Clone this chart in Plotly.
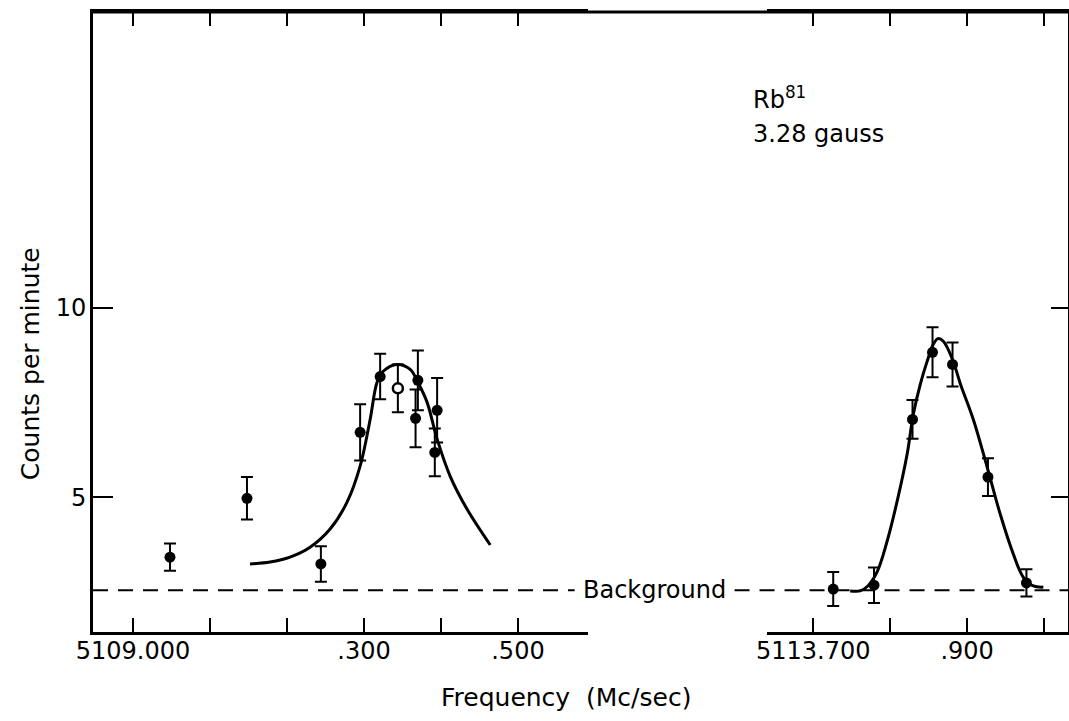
import plotly.graph_objects as go

# ---------------- data ----------------
BACKGROUND = 2.55

# left resonance (5109 Mc/sec region)
left_x = [5109.048, 5109.148, 5109.244, 5109.295, 5109.321, 5109.370, 5109.367, 5109.395, 5109.392]
left_y = [3.42, 4.97, 3.24, 6.71, 8.18, 8.08, 7.08, 7.29, 6.18]
left_err = [0.36, 0.56, 0.47, 0.74, 0.60, 0.79, 0.76, 0.85, 0.63]

# open-circle point
open_x = [5109.344]
open_y = [7.87]
open_err = [0.63]

left_curve_x = [5109.152, 5109.178, 5109.204, 5109.230, 5109.256, 5109.278, 5109.295,
                5109.308, 5109.317, 5109.325, 5109.343, 5109.360, 5109.370, 5109.382,
                5109.395, 5109.412, 5109.434, 5109.464]
left_curve_y = [3.24, 3.29, 3.42, 3.68, 4.16, 4.87, 5.82, 7.05, 8.03, 8.32, 8.50, 8.37,
                8.03, 7.50, 6.53, 5.55, 4.68, 3.74]

# right resonance (5113 Mc/sec region)
right_x = [5113.726, 5113.779, 5113.829, 5113.855, 5113.881, 5113.927, 5113.977]
right_y = [2.58, 2.68, 7.05, 8.82, 8.50, 5.53, 2.74]
right_err = [0.45, 0.47, 0.51, 0.66, 0.58, 0.50, 0.36]

right_curve_x = [5113.748, 5113.761, 5113.771, 5113.783, 5113.796, 5113.809, 5113.822,
                 5113.830, 5113.839, 5113.848, 5113.856, 5113.862, 5113.869, 5113.881,
                 5113.891, 5113.908, 5113.926, 5113.943, 5113.960, 5113.973, 5113.986,
                 5113.999]
right_curve_y = [2.53, 2.53, 2.66, 3.03, 3.84, 4.89, 6.13, 7.18, 7.97, 8.58, 9.03, 9.18,
                 9.11, 8.63, 8.00, 7.05, 5.79, 4.55, 3.50, 2.89, 2.66, 2.63]

left_tickvals = [5109.0, 5109.3, 5109.5]
left_ticktext = ["5109.000", ".300", ".500"]
left_minor_vals = [5109.1, 5109.2, 5109.4]
right_tickvals = [5113.7, 5113.9]
right_ticktext = ["5113.700", ".900"]
right_minor_vals = [5113.8, 5114.0]
y_tickvals = [5, 10]
y_ticktext = ["5", "10"]

# ---------------- figure ----------------
FONT = "DejaVu Sans"
BLACK = "black"

fig = go.Figure()

err_style = dict(type="data", visible=True, thickness=2, width=6, color=BLACK)

fig.add_trace(go.Scatter(x=left_curve_x, y=left_curve_y, mode="lines",
                         line=dict(color=BLACK, width=3, shape="spline"),
                         xaxis="x", yaxis="y", hoverinfo="skip"))
fig.add_trace(go.Scatter(x=left_x, y=left_y, mode="markers",
                         marker=dict(color=BLACK, size=11, symbol="circle"),
                         error_y=dict(array=left_err, **err_style),
                         xaxis="x", yaxis="y"))
fig.add_trace(go.Scatter(x=open_x, y=open_y, mode="markers",
                         marker=dict(color="white", size=10, symbol="circle",
                                     line=dict(color=BLACK, width=2.5)),
                         error_y=dict(array=open_err, **err_style),
                         xaxis="x", yaxis="y"))

fig.add_trace(go.Scatter(x=right_curve_x, y=right_curve_y, mode="lines",
                         line=dict(color=BLACK, width=3, shape="spline", smoothing=1.0),
                         xaxis="x2", yaxis="y2", hoverinfo="skip"))
fig.add_trace(go.Scatter(x=right_x, y=right_y, mode="markers",
                         marker=dict(color=BLACK, size=11, symbol="circle"),
                         error_y=dict(array=right_err, **err_style),
                         xaxis="x2", yaxis="y2"))

axis_font = dict(family=FONT, size=24, color=BLACK)

xcommon = dict(showgrid=False, zeroline=False, showline=True, linecolor=BLACK, linewidth=3,
               ticks="inside", ticklen=14, tickwidth=2, tickcolor=BLACK, mirror="ticks",
               tickfont=axis_font, ticklabelstandoff=-5, fixedrange=True)

fig.update_layout(
    width=1069, height=721,
    margin=dict(l=93, r=1, t=12, b=89),
    paper_bgcolor="white", plot_bgcolor="white",
    showlegend=False,
    xaxis=dict(domain=[0, 0.5077], range=[5108.948, 5109.591], anchor="y",
               tickmode="array", tickvals=left_tickvals, ticktext=left_ticktext,
               minor=dict(tickmode="array", tickvals=left_minor_vals, ticks="inside",
                          ticklen=14, tickwidth=2, tickcolor=BLACK, showgrid=False),
               **xcommon),
    xaxis2=dict(domain=[0.6913, 1], range=[5113.640, 5114.031], anchor="y2",
                tickmode="array", tickvals=right_tickvals, ticktext=right_ticktext,
                minor=dict(tickmode="array", tickvals=right_minor_vals, ticks="inside",
                           ticklen=14, tickwidth=2, tickcolor=BLACK, showgrid=False),
                **xcommon),
    yaxis=dict(range=[1.447, 17.79], anchor="x", showgrid=False, zeroline=False,
               showline=True, linecolor=BLACK, linewidth=3, ticks="inside", ticklen=20,
               tickwidth=2, tickcolor=BLACK, tickmode="array", tickvals=y_tickvals,
               ticktext=y_ticktext, tickfont=axis_font, ticklabelstandoff=-1, fixedrange=True),
    yaxis2=dict(range=[1.447, 17.79], anchor="x2", side="right", matches="y",
                showgrid=False, zeroline=False, showline=True, linecolor=BLACK, linewidth=3,
                ticks="inside", ticklen=17, tickwidth=2, tickcolor=BLACK, tickmode="array",
                tickvals=y_tickvals, showticklabels=False, fixedrange=True),
)

# continuous top frame line across the axis break
fig.add_shape(type="line", xref="paper", yref="paper", x0=0, x1=1, y0=1, y1=1,
              line=dict(color=BLACK, width=3))

# background level (dashed), interrupted by its label
dash_style = dict(color=BLACK, width=2, dash="15px,10px")
fig.add_shape(type="line", xref="paper", yref="y", x0=0, x1=0.494,
              y0=BACKGROUND, y1=BACKGROUND, line=dash_style)
fig.add_shape(type="line", xref="paper", yref="y", x0=0.658, x1=1,
              y0=BACKGROUND, y1=BACKGROUND, line=dash_style)

text_font = dict(family=FONT, size=24, color=BLACK)
fig.add_annotation(text="Background", xref="paper", yref="y", x=0.576, y=BACKGROUND,
                   xanchor="center", yanchor="middle", showarrow=False, font=text_font)
fig.add_annotation(text="Rb<sup>81</sup>", xref="paper", yref="paper", x=0.675, y=0.862,
                   xanchor="left", yanchor="middle", showarrow=False, font=text_font)
fig.add_annotation(text="3.28 gauss", xref="paper", yref="paper", x=0.675, y=0.803,
                   xanchor="left", yanchor="middle", showarrow=False, font=text_font)
fig.add_annotation(text="Counts per minute", xref="paper", yref="paper", x=-0.0646, y=0.432,
                   xanchor="center", yanchor="middle", textangle=-90, showarrow=False,
                   font=dict(family=FONT, size=25, color=BLACK))
fig.add_annotation(text="Frequency  (Mc/sec)", xref="paper", yref="paper", x=0.485, y=-0.106,
                   xanchor="center", yanchor="middle", showarrow=False,
                   font=dict(family=FONT, size=25, color=BLACK))

fig.write_html("out.html")
